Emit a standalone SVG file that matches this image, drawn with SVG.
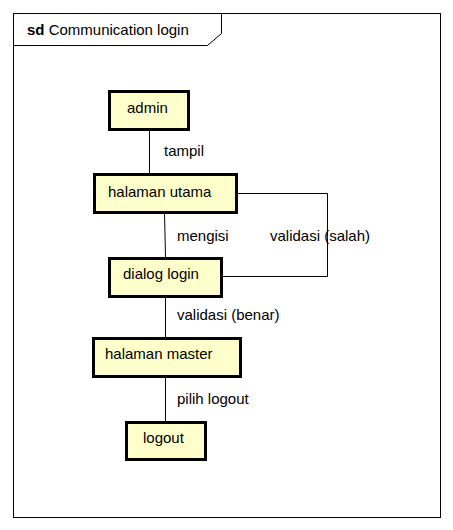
<svg xmlns="http://www.w3.org/2000/svg" width="453" height="530" viewBox="0 0 453 530">
<style>
text{font-family:"Liberation Sans",Arial,sans-serif;font-size:15px;fill:#000}
.node rect{fill:#ffffcc;stroke:#000;stroke-width:3}
.conn path{fill:none;stroke:#000;stroke-width:1}
</style>
<rect width="453" height="530" fill="#fff"/>
<g id="frame">
<rect x="13.5" y="13.5" width="427" height="504" fill="none" stroke="#000" stroke-width="1"/>
<path d="M13.5 45.5 H207.5 L221.5 33.5 V13.5" fill="none" stroke="#000" stroke-width="1"/>
<text x="27" y="35"><tspan font-weight="bold">sd</tspan> Communication login</text>
</g>
<g class="conn" id="connectors">
<path d="M149.5 131 V173"/>
<path d="M164.5 213 L165.5 257"/>
<path d="M237 193.5 H327.5 V276.5 H222"/>
<path d="M165.5 297 V337"/>
<path d="M165.5 378 V421"/>
<text x="164" y="156">tampil</text>
<text x="177" y="241">mengisi</text>
<text x="270" y="241">validasi (salah)</text>
<text x="177" y="320">validasi (benar)</text>
<text x="177" y="404">pilih logout</text>
</g>
<g class="node" id="admin"><rect x="109.5" y="91.5" width="79" height="38"/><text x="127" y="113">admin</text></g>
<g class="node" id="halaman-utama"><rect x="94.5" y="174.5" width="142" height="38"/><text x="108" y="197">halaman utama</text></g>
<g class="node" id="dialog-login"><rect x="109.5" y="258.5" width="112" height="38"/><text x="123" y="279">dialog login</text></g>
<g class="node" id="halaman-master"><rect x="93.5" y="338.5" width="147" height="38"/><text x="105" y="359">halaman master</text></g>
<g class="node" id="logout"><rect x="126.5" y="422.5" width="79" height="37"/><text x="143" y="443">logout</text></g>
</svg>
